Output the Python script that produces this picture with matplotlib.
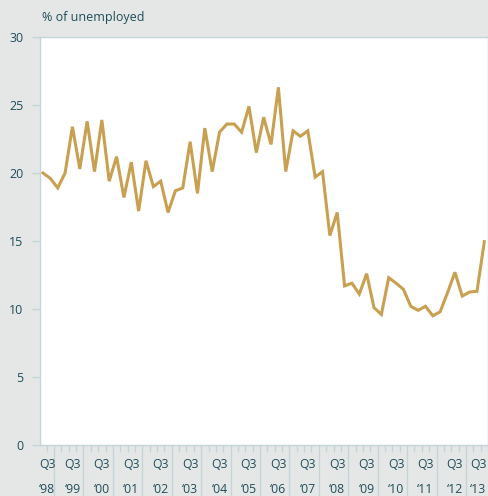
import matplotlib
matplotlib.use("Agg")
import matplotlib.pyplot as plt
import numpy as np

plt.rcParams["font.family"] = ["Open Sans", "DejaVu Sans"]

# Quarterly share, Q3 1998 .. Q3 2013
share = [20.0, 19.6, 18.9, 20.0, 23.4, 20.3, 23.8, 20.1, 23.9, 19.4,
         21.2, 18.2, 20.8, 17.2, 20.9, 19.0, 19.4, 17.1, 18.7, 18.9,
         22.3, 18.5, 23.3, 20.1, 23.0, 23.6, 23.6, 23.0, 24.9, 21.5,
         24.1, 22.1, 26.3, 20.1, 23.1, 22.7, 23.1, 19.7, 20.1, 15.4,
         17.1, 11.7, 11.9, 11.1, 12.6, 10.1, 9.6, 12.3, 11.9, 11.45,
         10.2, 9.9, 10.2, 9.5, 9.8, 11.2, 12.7, 10.95, 11.25, 11.3,
         14.95]
years = ["98", "99", "00", "01", "02", "03", "04", "05",
         "06", "07", "08", "09", "10", "11", "12", "13"]
yticks = [0, 5, 10, 15, 20, 25, 30]

BG = "#e5e7e6"
LINE = "#c8a050"
TXT = "#1e4d5a"
GRID = "#c5d4d9"

fig = plt.figure(figsize=(4.89, 4.96), dpi=100, facecolor=BG)
ax = fig.add_axes([40 / 489, 1 - 445 / 496, 448 / 489, 408 / 496])
ax.set_facecolor("white")

x = np.arange(len(share))
ax.plot(x, share, color=LINE, lw=2.2, solid_joinstyle="miter", zorder=3)

ax.set_xlim(-0.41, 60.38)
ax.set_ylim(0, 30)

for s in ax.spines.values():
    s.set_color(GRID)
    s.set_linewidth(1.0)

ax.set_yticks(yticks)
ax.tick_params(axis="y", length=6, color=GRID, width=1.0, labelsize=9,
               labelcolor=TXT, pad=6)

# quarter boundaries as minor ticks, year boundaries as long major ticks
year_bounds = np.arange(1.5, len(share), 4)
quarter_bounds = np.arange(0.5, len(share), 1)
ax.set_xticks(year_bounds)
ax.set_xticklabels([])
ax.set_xticks(quarter_bounds, minor=True)
ax.tick_params(axis="x", which="major", length=37, color=GRID, width=1.0)
ax.tick_params(axis="x", which="minor", length=5, color=GRID, width=1.0)

# Q3 labels, nudged inwards at both ends so they stay inside the figure
q3_pos = np.clip(x[::4], 0.55, 59.2)
for xi, yr in zip(q3_pos, years):
    ax.text(xi, -0.049, "Q3", transform=ax.get_xaxis_transform(),
            ha="center", va="center", fontsize=8.8, color=TXT)
    ax.text(xi, -0.108, "\u2018" + yr, transform=ax.get_xaxis_transform(),
            ha="center", va="center", fontsize=8.8, color=TXT)

fig.text(42 / 489, 1 - 18 / 496, "% of unemployed", ha="left", va="center",
         fontsize=9, color=TXT)

fig.savefig("out.png", dpi=100, facecolor=BG)
